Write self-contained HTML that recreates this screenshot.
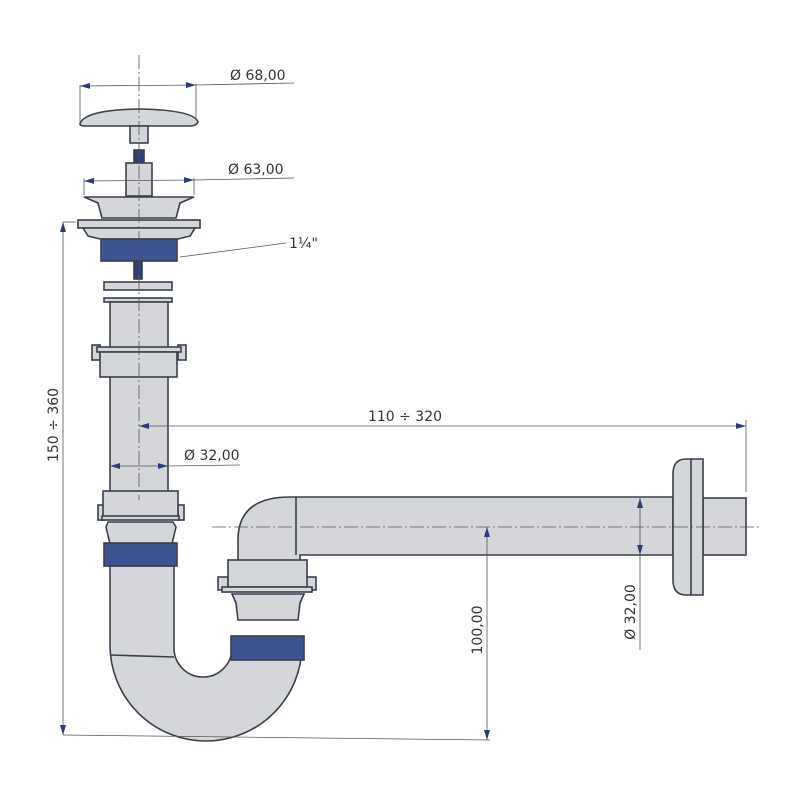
<!DOCTYPE html>
<html><head><meta charset="utf-8"><style>
html,body{margin:0;padding:0;background:#fff}
svg{display:block}
text{font-family:"DejaVu Sans","Liberation Sans",sans-serif;fill:#333;font-size:14px}
</style></head><body>
<svg width="800" height="800" viewBox="0 0 800 800" xmlns="http://www.w3.org/2000/svg">
<defs>
<marker id="a" markerWidth="10" markerHeight="6" refX="10" refY="3" orient="auto-start-reverse" markerUnits="userSpaceOnUse"><path d="M0,0 L10,3 L0,6 Z" fill="#2a3d7a"/></marker>
</defs>
<g fill="#d5d6d9" stroke="#3a3f4c" stroke-width="1.6">
<!-- cap -->
<path d="M80,124 Q84,110 139,109 Q194,110 198,122 Q196,126 190,126 L86,126 Q80,126 80,124 Z"/>
<rect x="130" y="126" width="18" height="17"/>
<rect x="134" y="150" width="10" height="12" fill="#2d3f78"/>
<rect x="126" y="163" width="26" height="33"/>
<!-- flange -->
<path d="M84,197 L194,197 L180,203 L176,218 L102,218 L98,203 Z"/>
<rect x="78" y="220" width="122" height="8"/>
<path d="M83,228 L195,228 L190,236 L178,239 L100,239 L88,236 Z"/>
<rect x="101" y="239" width="76" height="22" fill="#3d5290"/>
<rect x="134" y="261" width="8" height="18" fill="#2d3f78"/>
<rect x="104" y="282" width="68" height="8"/>
<rect x="104" y="298" width="68" height="4"/>
<rect x="110" y="302" width="58" height="190"/>
<!-- upper nut -->
<rect x="92" y="345" width="8" height="15"/>
<rect x="178" y="345" width="8" height="15"/>
<rect x="97" y="347" width="84" height="5"/>
<rect x="100" y="352" width="77" height="25"/>
<!-- lower nut -->
<rect x="98" y="505" width="7" height="15"/>
<rect x="178" y="505" width="6" height="15"/>
<rect x="103" y="491" width="75" height="26"/>
<rect x="102" y="516" width="77" height="4"/>
<path d="M108,522 L173,522 L176,527 L172,544 L110,544 L106,527 Z"/>
<!-- J trap -->
<path d="M110,566 L174,566 L174,648 A29,29 0 0 0 232,648 L232,658 L302,658 L302,645 A96,96 0 0 1 110,645 Z"/>
<rect x="104" y="543" width="73" height="23" fill="#3d5290"/>
<rect x="231" y="636" width="73" height="24" fill="#3d5290"/>
<line x1="110" y1="655" x2="174" y2="657"/>
<!-- elbow & horizontal -->
<path d="M238,562 L238,540 Q238,497 290,497 L673,497 L673,555 L300,555 L300,562 Z"/>
<line x1="296" y1="497" x2="296" y2="555"/>
<rect x="218" y="577" width="10" height="13"/>
<rect x="306" y="577" width="10" height="13"/>
<rect x="228" y="560" width="79" height="27"/>
<rect x="222" y="587" width="90" height="5"/>
<path d="M232,594 L304,594 L300,603 L298,620 L238,620 L236,603 Z"/>
<!-- wall flange -->
<rect x="703" y="498" width="43" height="57"/>
<path d="M686,459 L703,459 L703,595 L686,595 Q673,595 673,580 L673,474 Q673,459 686,459 Z"/>
<line x1="691" y1="459" x2="691" y2="595"/>
</g>
<!-- center lines -->
<g stroke="#555" stroke-width="0.8" stroke-dasharray="14,3,2,3" fill="none">
<line x1="139" y1="55" x2="139" y2="500"/>
<line x1="212" y1="527" x2="762" y2="527"/>
</g>
<!-- dimension lines -->
<g stroke="#555" stroke-width="0.8" fill="none">
<line x1="80" y1="85" x2="80" y2="124"/>
<line x1="196" y1="84" x2="196" y2="120"/>
<line x1="80" y1="86" x2="196" y2="85" marker-start="url(#a)" marker-end="url(#a)"/>
<line x1="196" y1="85" x2="294" y2="83"/>
<line x1="84" y1="178" x2="84" y2="195"/>
<line x1="194" y1="178" x2="194" y2="195"/>
<line x1="84" y1="181" x2="194" y2="180" marker-start="url(#a)" marker-end="url(#a)"/>
<line x1="194" y1="180" x2="294" y2="178"/>
<line x1="180" y1="257" x2="286" y2="243"/>
<line x1="63" y1="222" x2="76" y2="222"/>
<line x1="63" y1="222" x2="63" y2="735" marker-start="url(#a)" marker-end="url(#a)"/>
<line x1="63" y1="735" x2="490" y2="740"/>
<line x1="139" y1="426" x2="746" y2="426" marker-start="url(#a)" marker-end="url(#a)"/>
<line x1="746" y1="420" x2="746" y2="492"/>
<line x1="110" y1="466" x2="168" y2="466" marker-start="url(#a)" marker-end="url(#a)"/>
<line x1="168" y1="466" x2="240" y2="465"/>
<line x1="487" y1="527" x2="487" y2="740" marker-start="url(#a)" marker-end="url(#a)"/>
<line x1="640" y1="498" x2="640" y2="555" marker-start="url(#a)" marker-end="url(#a)"/>
<line x1="640" y1="555" x2="640" y2="650"/>
</g>
<text x="230" y="80">Ø 68,00</text>
<text x="228" y="174">Ø 63,00</text>
<text x="289" y="248">1¼"</text>
<text x="405" y="421" text-anchor="middle">110 ÷ 320</text>
<text x="184" y="460">Ø 32,00</text>
<text transform="translate(58,425) rotate(-90)" text-anchor="middle">150 ÷ 360</text>
<text transform="translate(482,630) rotate(-90)" text-anchor="middle">100,00</text>
<text transform="translate(635,612) rotate(-90)" text-anchor="middle">Ø 32,00</text>
</svg>
</body></html>
